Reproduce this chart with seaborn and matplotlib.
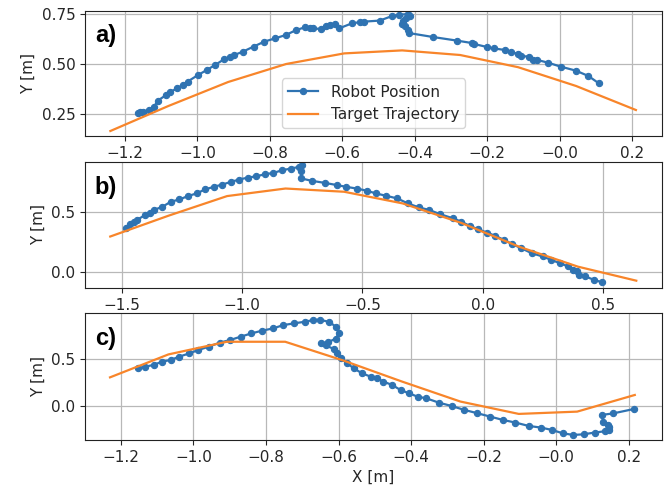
import numpy as np
import pandas as pd
import matplotlib
matplotlib.use("Agg")
import matplotlib.pyplot as plt
import seaborn as sns

# ---------------- data ----------------
series_names = ["Robot Position", "Target Trajectory"]
panel_labels = ["a)", "b)", "c)"]

# panel a
a_robot_x = [-1.165, -1.158, -1.15, -1.133, -1.12, -1.109, -1.086, -1.075, -1.056, -1.04, -1.027,
             -0.998, -0.974, -0.951, -0.927, -0.91, -0.898, -0.874, -0.845, -0.815, -0.786,
             -0.756, -0.727, -0.704, -0.69, -0.68, -0.66, -0.645, -0.633, -0.621, -0.609,
             -0.574, -0.55, -0.539, -0.497, -0.464, -0.444, -0.419, -0.414, -0.423, -0.433,
             -0.436, -0.428, -0.419, -0.417, -0.350, -0.284, -0.243, -0.236, -0.201, -0.182,
             -0.151, -0.135, -0.115, -0.108, -0.086, -0.075, -0.062, -0.033, 0.002, 0.044,
             0.079, 0.108]
a_robot_y = [0.257, 0.262, 0.262, 0.27, 0.285, 0.317, 0.345, 0.36, 0.378, 0.395, 0.412,
             0.445, 0.47, 0.495, 0.523, 0.535, 0.545, 0.562, 0.587, 0.612, 0.628,
             0.645, 0.67, 0.683, 0.68, 0.678, 0.675, 0.69, 0.697, 0.70, 0.678,
             0.703, 0.71, 0.712, 0.717, 0.739, 0.746, 0.75, 0.74, 0.728, 0.715,
             0.70, 0.69, 0.67, 0.655, 0.635, 0.617, 0.605, 0.60, 0.585, 0.578,
             0.57, 0.56, 0.55, 0.54, 0.537, 0.52, 0.52, 0.507, 0.487, 0.467,
             0.44, 0.403]
a_target_x = [-1.24, -1.08, -0.915, -0.755, -0.595, -0.435, -0.275, -0.115, 0.045, 0.21]
a_target_y = [0.165, 0.29, 0.41, 0.50, 0.553, 0.568, 0.545, 0.484, 0.39, 0.27]

# panel b
b_robot_x = [-1.483, -1.465, -1.452, -1.439, -1.403, -1.385, -1.368, -1.332, -1.297, -1.261,
             -1.226, -1.19, -1.155, -1.119, -1.083, -1.048, -1.012, -0.977, -0.941, -0.906,
             -0.87, -0.835, -0.799, -0.764, -0.752, -0.755, -0.755, -0.71, -0.657, -0.604,
             -0.568, -0.524, -0.48, -0.444, -0.4, -0.355, -0.311, -0.266, -0.222, -0.178,
             -0.124, -0.089, -0.053, -0.018, 0.018, 0.053, 0.089, 0.124, 0.16, 0.204,
             0.249, 0.284, 0.32, 0.355, 0.375, 0.391, 0.40, 0.426, 0.462, 0.497]
b_robot_y = [0.365, 0.40, 0.415, 0.434, 0.475, 0.495, 0.517, 0.544, 0.586, 0.605,
             0.633, 0.655, 0.688, 0.71, 0.729, 0.751, 0.771, 0.787, 0.798, 0.815,
             0.826, 0.848, 0.862, 0.876, 0.89, 0.84, 0.78, 0.76, 0.743, 0.724,
             0.71, 0.696, 0.677, 0.655, 0.635, 0.613, 0.572, 0.539, 0.517, 0.483,
             0.448, 0.42, 0.384, 0.356, 0.329, 0.301, 0.268, 0.232, 0.199, 0.157,
             0.13, 0.102, 0.075, 0.047, 0.02, 0.006, -0.022, -0.036, -0.064, -0.086]
b_target_x = [-1.549, -1.306, -1.063, -0.82, -0.576, -0.333, -0.09, 0.153, 0.396, 0.639]
b_target_y = [0.296, 0.47, 0.633, 0.696, 0.669, 0.572, 0.41, 0.21, 0.045, -0.072]

# panel c
c_robot_x = [-1.152, -1.134, -1.11, -1.087, -1.063, -1.04, -1.011, -0.987, -0.958, -0.928,
             -0.899, -0.87, -0.84, -0.811, -0.781, -0.752, -0.723, -0.693, -0.67, -0.651,
             -0.625, -0.607, -0.598, -0.608, -0.628, -0.648, -0.635, -0.612, -0.603, -0.593,
             -0.576, -0.558, -0.535, -0.511, -0.494, -0.476, -0.452, -0.429, -0.405, -0.382,
             -0.358, -0.323, -0.288, -0.253, -0.217, -0.182, -0.147, -0.112, -0.076, -0.041,
             -0.012, 0.018, 0.047, 0.076, 0.106, 0.135, 0.147, 0.147, 0.144, 0.13,
             0.126, 0.158, 0.215]
c_robot_y = [0.399, 0.416, 0.434, 0.469, 0.486, 0.521, 0.556, 0.591, 0.626, 0.668,
             0.696, 0.731, 0.766, 0.794, 0.818, 0.853, 0.871, 0.888, 0.906, 0.91,
             0.885, 0.835, 0.77, 0.71, 0.675, 0.665, 0.64, 0.60, 0.556, 0.503,
             0.451, 0.399, 0.346, 0.311, 0.294, 0.259, 0.224, 0.171, 0.136, 0.101,
             0.084, 0.038, 0.003, -0.038, -0.073, -0.108, -0.143, -0.171, -0.206, -0.224,
             -0.248, -0.283, -0.301, -0.294, -0.276, -0.262, -0.25, -0.22, -0.196, -0.16,
             -0.091, -0.074, -0.028]
c_target_x = [-1.23, -1.069, -0.908, -0.747, -0.586, -0.425, -0.264, -0.103, 0.058, 0.217]
c_target_y = [0.304, 0.545, 0.678, 0.678, 0.48, 0.26, 0.05, -0.08, -0.056, 0.119]

# ---------------- layout ----------------
panels = [
    (a_robot_x, a_robot_y, a_target_x, a_target_y),
    (b_robot_x, b_robot_y, b_target_x, b_target_y),
    (c_robot_x, c_robot_y, c_target_x, c_target_y),
]
W, H = 668, 494
left, right = 85 / W, 662 / W
boxes = [(11, 136), (162, 288), (313, 440)]
xlims = [(-1.31, 0.282), (-1.654, 0.746), (-1.299, 0.292)]
ylims = [(0.14, 0.765), (-0.133, 0.917), (-0.354, 0.98)]
xticks = [np.arange(-1.2, 0.21, 0.2), np.arange(-1.5, 0.51, 0.5), np.arange(-1.2, 0.21, 0.2)]
yticks = [[0.25, 0.50, 0.75], [0.0, 0.5], [0.0, 0.5]]
yfmt = ["{:.2f}", "{:.1f}", "{:.1f}"]

FS = 11
plt.rcParams["font.family"] = ["DejaVu Sans"]
fig = plt.figure(figsize=(W / 100, H / 100), dpi=100)
blue = "#2f73b2"
orange = "#f8852a"
txt = "#262626"

for i, (rx, ry, tx, ty) in enumerate(panels):
    top, bot = boxes[i]
    ax = fig.add_axes([left, 1 - bot / H, right - left, (bot - top) / H])
    df_r = pd.DataFrame({"x": rx, "y": ry})
    df_t = pd.DataFrame({"x": tx, "y": ty})
    sns.lineplot(data=df_r, x="x", y="y", sort=False, estimator=None, ax=ax,
                 color=blue, lw=1.6, marker="o", ms=4.5, mec=blue, mew=0.8,
                 label=series_names[0], legend=False)
    sns.lineplot(data=df_t, x="x", y="y", sort=False, estimator=None, ax=ax,
                 color=orange, lw=1.6, label=series_names[1], legend=False)
    ax.set_xlim(*xlims[i])
    ax.set_ylim(*ylims[i])
    ax.set_xticks(xticks[i])
    ax.set_xticklabels([f"{v:.1f}".replace("-", "\u2212") for v in xticks[i]])
    ax.set_yticks(yticks[i])
    ax.set_yticklabels([yfmt[i].format(v) for v in yticks[i]])
    ax.grid(True, color="#b8b8b8", lw=0.9)
    ax.set_axisbelow(True)
    ax.tick_params(labelsize=FS, colors=txt)
    for s in ax.spines.values():
        s.set_color("#222222")
    ax.set_ylabel("Y [m]", fontsize=FS, color=txt)
    ax.set_xlabel("X [m]" if i == 2 else "", fontsize=FS, color=txt)
    ax.text(0.017, 0.8, panel_labels[i], transform=ax.transAxes, fontsize=17,
            fontweight="bold", va="center", ha="left", family=["Liberation Sans"])
    if i == 0:
        leg = ax.legend(loc="lower center", fontsize=FS)
        for t in leg.get_texts():
            t.set_color(txt)

fig.savefig("out.png", dpi=100)
